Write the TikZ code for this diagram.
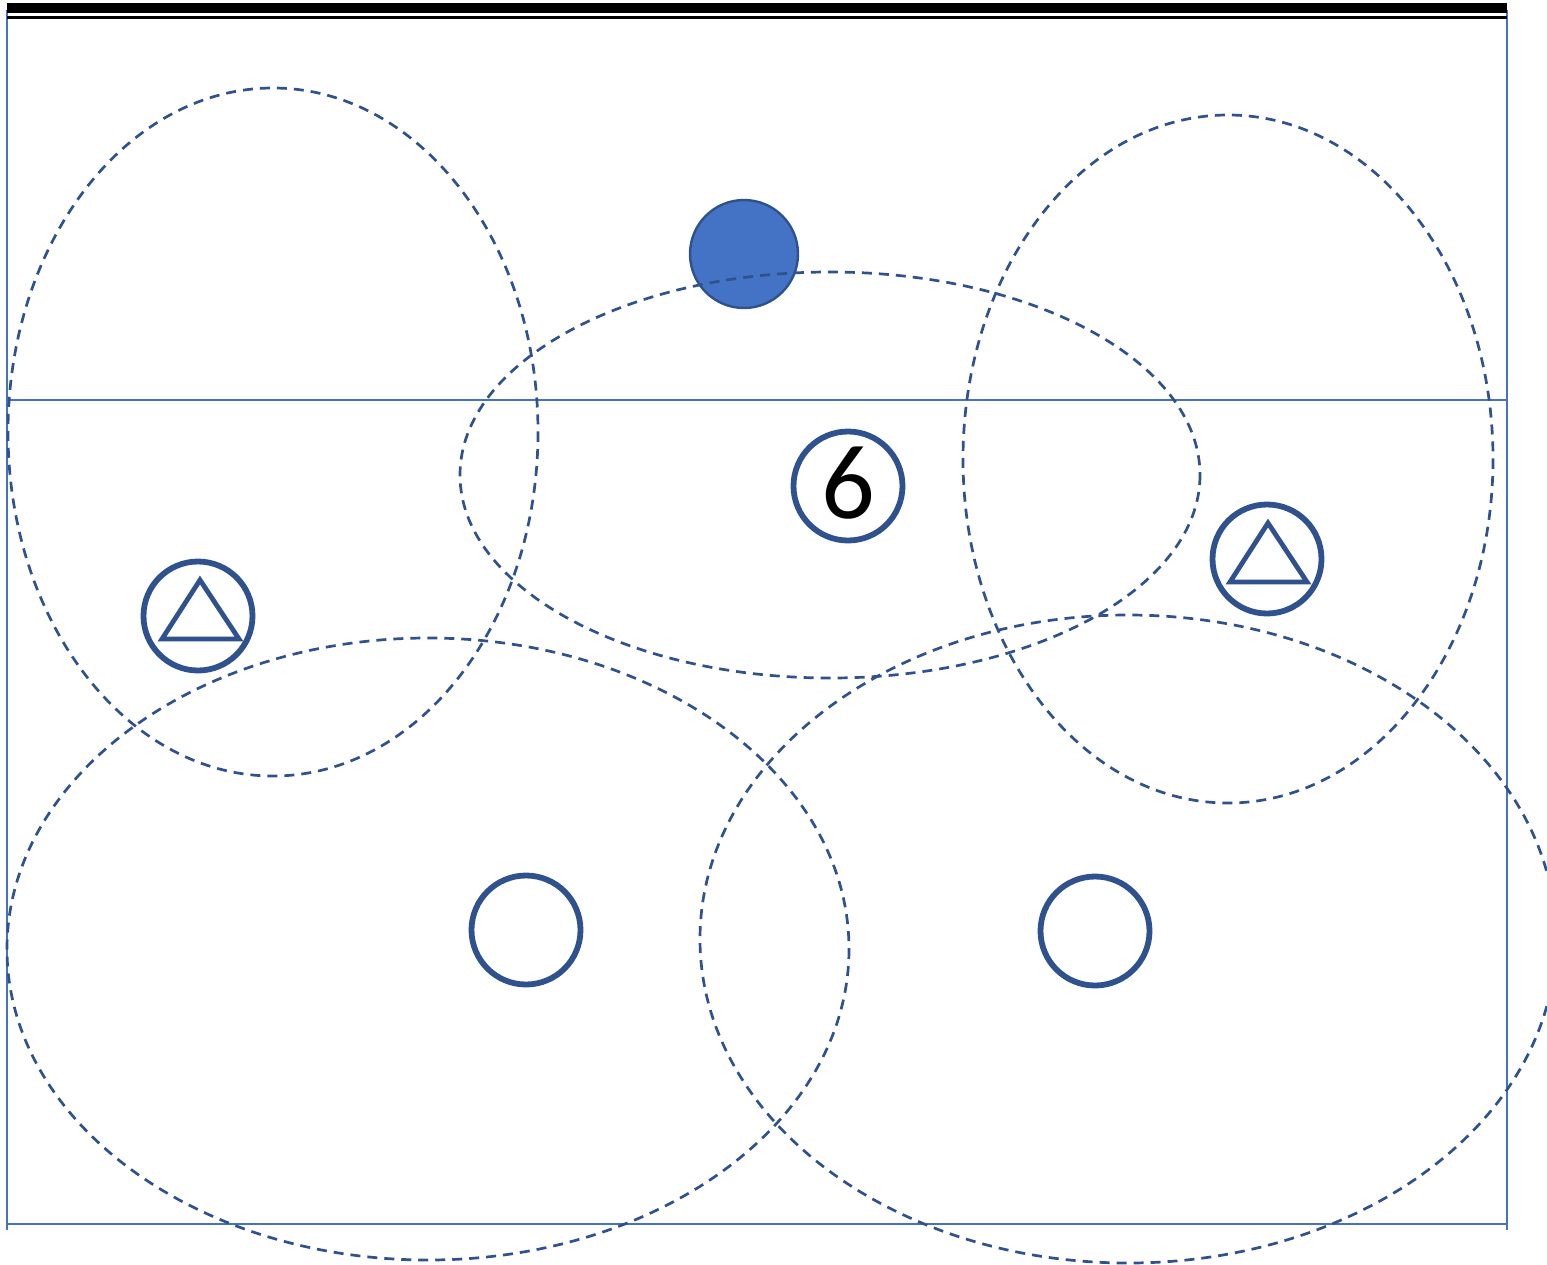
\documentclass[tikz,border=0pt]{standalone}
\usepackage{fontspec}
\newfontfamily\calib{Carlito}
\definecolor{dkblue}{HTML}{2F528F}
\definecolor{mblue}{HTML}{4472C4}
\begin{document}
\begin{tikzpicture}[x=0.5pt,y=-0.5pt,
  zone/.style={draw=dkblue,line width=1.35pt,dash pattern=on 5pt off 3.5pt},
  grid/.style={draw=mblue,line width=0.7pt},
  station/.style={circle,draw=dkblue,line width=2.9pt,minimum size=54.5pt,inner sep=0pt,fill=white},
  tri/.style={draw=dkblue,line width=2.4pt,line join=miter}]
\useasboundingbox (0,0) rectangle (1547,1264);
\clip (0,0) rectangle (1547,1264);
% frame lines
\coordinate (tl) at (7,10);
\coordinate (bl) at (7,1230);
\coordinate (tr) at (1507,10);
\coordinate (br) at (1507,1230);
\coordinate (ml) at (7,400);
\coordinate (mr) at (1507,400);
\coordinate (ll) at (7,1224);
\coordinate (lr) at (1507,1224);
\draw[grid] (tl) -- (bl);
\draw[grid] (tr) -- (br);
\draw[grid] (ml) -- (mr);
\draw[grid] (ll) -- (lr);
\coordinate (ta) at (7,8);
\coordinate (tb) at (1507,8);
\coordinate (sa) at (7,17.5);
\coordinate (sb) at (1507,17.5);
\draw[black,line width=4.8pt] (ta) -- (tb);
\draw[black,line width=1.6pt] (sa) -- (sb);
% filled circle
\node[circle,draw=dkblue,fill=mblue,line width=1.2pt,minimum size=54pt,inner sep=0pt] (fc) at (744,254) {};
% dashed zones
\draw[zone] (273,432) ellipse [x radius=265, y radius=344];
\draw[zone] (830,475) ellipse [x radius=370, y radius=203];
\draw[zone] (1228,459) ellipse [x radius=265, y radius=344];
\draw[zone] (428,949) ellipse [x radius=421, y radius=311];
\draw[zone] (1128,939) ellipse [x radius=428, y radius=324];
% stations
\node[station] (s6) at (848,486) {};
\node[font=\calib\fontsize{53}{53}\selectfont,inner sep=0pt,anchor=base] (lab6) at (848,518) {6};
\node[station] (ta1) at (198,616) {};
\node[station] (ta2) at (1267,559) {};
\node[station] (c1) at (526,930) {};
\node[station] (c2) at (1095,931) {};
\draw[tri] (162,639) -- (239,639) -- (200,580) -- cycle;
\draw[tri] (1230,582) -- (1307,582) -- (1268,523) -- cycle;
\end{tikzpicture}
\end{document}
